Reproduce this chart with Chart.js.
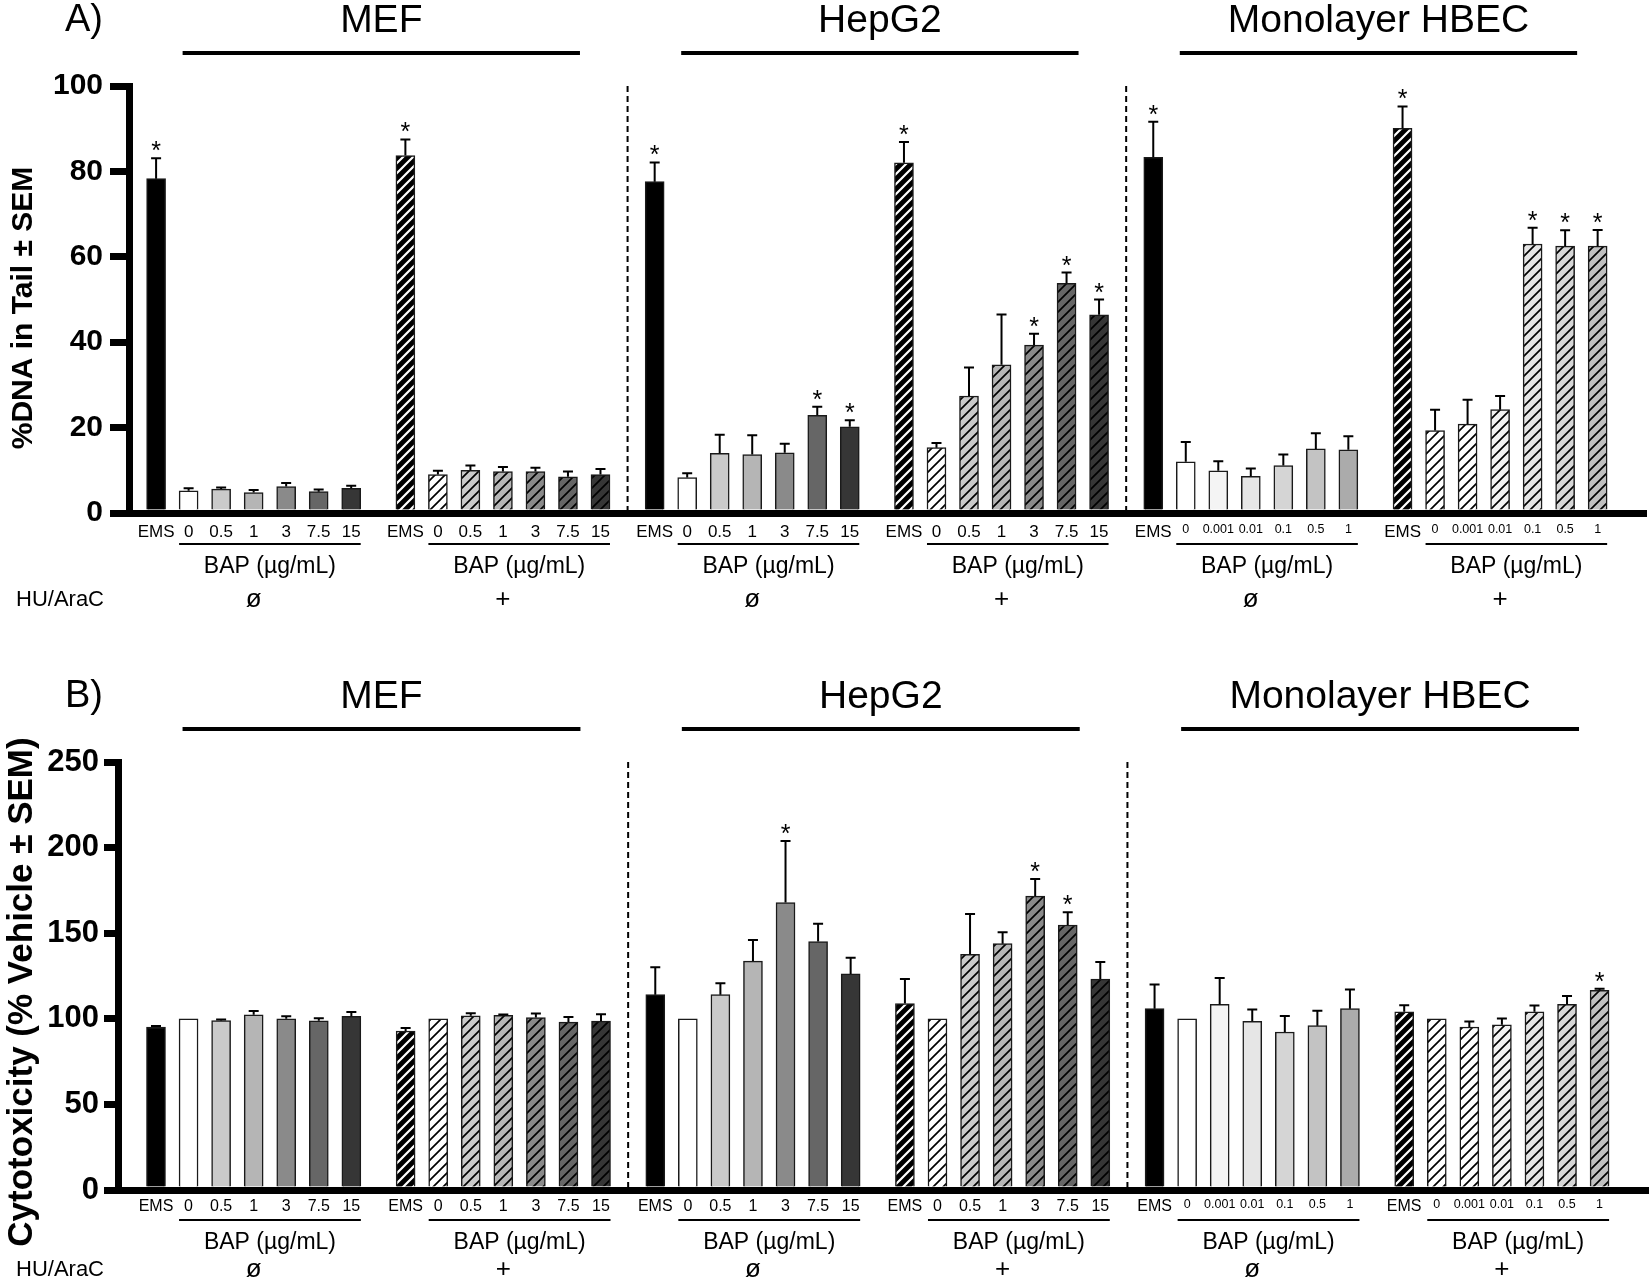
<!DOCTYPE html>
<html>
<head>
<meta charset="utf-8">
<script src="https://cdn.jsdelivr.net/npm/chart.js@4.4.1/dist/chart.umd.min.js"></script>
<style>
  html, body { margin: 0; padding: 0; background: #fff; }
  #wrap { position: relative; width: 1650px; height: 1286px; }
  canvas { position: absolute; left: 0; }
  #chartA { top: 0; }
  #chartB { top: 630px; }
</style>
</head>
<body>
<div id="wrap">
  <canvas id="chartA" width="1650" height="630"></canvas>
  <canvas id="chartB" width="1650" height="656"></canvas>
</div>
<script>
const panelNames = ["MEF", "HepG2", "Monolayer HBEC"];
const doseLabels = ["EMS", "0", "0.5", "1", "3", "7.5", "15"];
const hbecDoseLabels = ["EMS", "0", "0.001", "0.01", "0.1", "0.5", "1"];
const groupLabel = "BAP (µg/mL)";
const huAracLabels = ["ø", "+"];

// A) %DNA in tail. first 7 = without HU/AraC, last 7 = with HU/AraC
const dnaMef = [78.3, 5.2, 5.6, 4.8, 6.2, 5.0, 5.8, 83.7, 9.0, 10.0, 9.7, 9.7, 8.5, 9.0];
const dnaMefErr = [4.8, 0.6, 0.4, 0.6, 0.8, 0.5, 0.6, 3.8, 0.9, 1.1, 1.1, 0.9, 1.2, 1.3];
const dnaMefStars = [0, 7];
const dnaHep = [77.6, 8.3, 14.0, 13.7, 14.1, 22.9, 20.2, 82.0, 15.3, 27.4, 34.7, 39.3, 53.8, 46.4];
const dnaHepErr = [4.5, 1.0, 4.3, 4.5, 2.1, 2.0, 1.5, 4.9, 1.1, 6.7, 11.8, 2.7, 2.5, 3.6];
const dnaHepStars = [0, 5, 6, 7, 11, 12, 13];
const dnaHbec = [83.3, 12.0, 9.9, 8.6, 11.1, 15.0, 14.8, 90.1, 19.3, 20.8, 24.2, 63.0, 62.5, 62.5];
const dnaHbecErr = [8.3, 4.6, 2.2, 1.8, 2.6, 3.7, 3.2, 5.1, 4.9, 5.7, 3.2, 3.8, 3.7, 3.8];
const dnaHbecStars = [0, 7, 11, 12, 13];

// B) cytotoxicity, % of vehicle
const cytoMef = [95.2, 100, 98.9, 102.3, 100.0, 98.8, 101.5, 92.8, 100, 101.8, 102.0, 100.7, 98.1, 98.6];
const cytoMefErr = [0.6, 0, 0.7, 2.3, 1.5, 1.5, 2.5, 1.8, 0, 1.5, 0.5, 2.4, 3.0, 4.0];
const cytoMefStars = [];
const cytoHep = [114.1, 100, 114.1, 133.7, 167.9, 145.1, 126.2, 108.9, 100, 137.7, 143.9, 171.7, 154.8, 123.2];
const cytoHepErr = [16.0, 0, 6.7, 12.4, 36.0, 10.4, 9.5, 14.3, 0, 23.5, 6.7, 9.9, 7.4, 10.0];
const cytoHepStars = [4, 11, 12];
const cytoHbec = [105.9, 100, 108.4, 98.5, 92.3, 96.0, 105.9, 104.1, 100, 95.2, 96.5, 104.1, 108.4, 116.6];
const cytoHbecErr = [14.1, 0, 15.4, 7.0, 9.4, 8.7, 11.2, 3.8, 0, 3.2, 3.7, 3.6, 4.9, 1.0];
const cytoHbecStars = [13];

const yTicksA = [0, 20, 40, 60, 80, 100];
const yTicksB = [0, 50, 100, 150, 200, 250];

const FONT = "'Liberation Sans', Arial, Helvetica, sans-serif";
const BAR_W = 19;
const SUB = 3;  // category slots from one bar to the next
const GAP = 5;  // category slots from the last bar of a group to the next group

const greysPlain = ["#000000", "#ffffff", "#cacaca", "#b5b5b5", "#8a8a8a", "#666666", "#363636"];
const greysHbec = ["#000000", "#ffffff", "#f4f4f4", "#e6e6e6", "#d5d5d5", "#c3c3c3", "#ababab"];
const greysHbecHatched = ["#000000", "#ffffff", "#ffffff", "#f2f2f2", "#e4e4e4", "#d6d6d6", "#c0c0c0"];

function hatch(bg, fg, w) {
  const c = document.createElement("canvas");
  c.width = 10;
  c.height = 10;
  const g = c.getContext("2d");
  g.fillStyle = bg;
  g.fillRect(0, 0, 10, 10);
  g.strokeStyle = fg;
  g.lineWidth = w;
  g.beginPath();
  g.moveTo(-2, 12); g.lineTo(12, -2);
  g.moveTo(-7, 7); g.lineTo(7, -7);
  g.moveTo(3, 17); g.lineTo(17, 3);
  g.stroke();
  return g.createPattern(c, "repeat");
}

function fillFor(group, bar) {
  const hbec = group >= 4;
  const hatched = group % 2 === 1;
  const base = hbec ? (hatched ? greysHbecHatched : greysHbec) : greysPlain;
  if (!hatched) return base[bar];
  return bar === 0 ? hatch(base[bar], "#ffffff", 2.2) : hatch(base[bar], "#000000", 1.7);
}

// category slots: 6 groups of 7 bars, blank slots between them
function buildSlots(lead, tail) {
  const labels = [];
  const slotOf = [];
  for (let i = 0; i < lead; i++) labels.push("");
  for (let g = 0; g < 6; g++) {
    if (g > 0) for (let i = 0; i < GAP - 1; i++) labels.push("");
    const names = g >= 4 ? hbecDoseLabels : doseLabels;
    const row = [];
    for (let b = 0; b < 7; b++) {
      if (b > 0) for (let i = 0; i < SUB - 1; i++) labels.push("");
      row.push(labels.length);
      labels.push(names[b]);
    }
    slotOf.push(row);
  }
  for (let i = 0; i < tail; i++) labels.push("");
  return { labels, slotOf };
}

function decorPlugin(spec, slotOf) {
  return {
    id: "panelDecor",
    afterDraw(chart) {
      const ctx = chart.ctx;
      const area = chart.chartArea;
      const ys = chart.scales.y;
      const meta = chart.getDatasetMeta(0);
      const px = slot => meta.data[slot].x;
      ctx.save();
      ctx.fillStyle = "#000";
      ctx.strokeStyle = "#000";

      // panel letter + cell type headers
      ctx.font = `38px ${FONT}`;
      ctx.textAlign = "left";
      ctx.textBaseline = "middle";
      ctx.fillText(spec.letter, 65, area.top - 65);
      ctx.font = `39px ${FONT}`;
      ctx.textAlign = "center";
      ctx.lineWidth = 4;
      for (let p = 0; p < 3; p++) {
        const x1 = px(slotOf[2 * p][1]) - 6;
        const x2 = px(slotOf[2 * p + 1][5]) + 12;
        ctx.beginPath();
        ctx.moveTo(x1, area.top - 33);
        ctx.lineTo(x2, area.top - 33);
        ctx.stroke();
        ctx.fillText(panelNames[p], (x1 + x2) / 2, area.top - 65);
      }

      // dashed separators between cell types
      ctx.lineWidth = 2;
      ctx.setLineDash([6, 4]);
      for (const g of [1, 3]) {
        const x = (px(slotOf[g][6]) + px(slotOf[g + 1][0])) / 2;
        ctx.beginPath();
        ctx.moveTo(x, area.top);
        ctx.lineTo(x, area.bottom);
        ctx.stroke();
      }
      ctx.setLineDash([]);

      // error bars and significance marks
      ctx.font = `25px ${FONT}`;
      ctx.textBaseline = "alphabetic";
      for (let g = 0; g < 6; g++) {
        const s = spec.series[Math.floor(g / 2)];
        for (let b = 0; b < 7; b++) {
          const k = (g % 2) * 7 + b;
          const x = px(slotOf[g][b]);
          const top = ys.getPixelForValue(s.v[k]);
          const et = ys.getPixelForValue(s.v[k] + s.e[k]);
          if (s.e[k] > 0) {
            ctx.lineWidth = 2;
            ctx.beginPath();
            ctx.moveTo(x, top);
            ctx.lineTo(x, et);
            ctx.moveTo(x - 5, et);
            ctx.lineTo(x + 5, et);
            ctx.stroke();
          }
          if (s.stars.includes(k)) ctx.fillText("*", x, et + 1);
        }
      }

      // dose underline, BAP label, HU/AraC row
      for (let g = 0; g < 6; g++) {
        const row = slotOf[g];
        const x0 = px(row[1]) - BAR_W / 2;
        const x1 = px(row[6]) + BAR_W / 2;
        ctx.lineWidth = 2;
        ctx.beginPath();
        ctx.moveTo(x0, area.bottom + spec.under);
        ctx.lineTo(x1, area.bottom + spec.under);
        ctx.stroke();
        ctx.textBaseline = "middle";
        ctx.font = `23px ${FONT}`;
        ctx.fillText(groupLabel, (x0 + x1) / 2, area.bottom + spec.bap);
        ctx.font = `26px ${FONT}`;
        ctx.fillText(huAracLabels[g % 2], (px(row[0]) + px(row[6])) / 2, area.bottom + spec.hu);
      }
      ctx.textAlign = "left";
      ctx.font = `22px ${FONT}`;
      ctx.fillText("HU/AraC", 16, area.bottom + spec.hu);

      // y axis title
      ctx.translate(spec.titleX, spec.titleY);
      ctx.rotate(-Math.PI / 2);
      ctx.textAlign = "center";
      ctx.textBaseline = "middle";
      ctx.font = `bold ${spec.titleSize}px ${FONT}`;
      ctx.fillText(spec.yTitle, 0, 0);
      ctx.restore();
    }
  };
}

function makeChart(id, spec) {
  const { labels, slotOf } = buildSlots(spec.lead, spec.tail);
  const values = new Array(labels.length).fill(null);
  const fills = new Array(labels.length).fill("#ffffff");
  const small = new Set();
  for (let g = 0; g < 6; g++) {
    const s = spec.series[Math.floor(g / 2)];
    for (let b = 0; b < 7; b++) {
      const slot = slotOf[g][b];
      values[slot] = s.v[(g % 2) * 7 + b];
      fills[slot] = fillFor(g, b);
      if (g >= 4 && b > 0) small.add(slot);
    }
  }
  const yt = spec.yTicks;

  return new Chart(document.getElementById(id), {
    type: "bar",
    data: {
      labels: labels,
      datasets: [{
        data: values,
        backgroundColor: c => fills[c.dataIndex],
        borderColor: "#1a1a1a",
        borderWidth: 1.5,
        barThickness: BAR_W
      }]
    },
    options: {
      responsive: false,
      animation: false,
      devicePixelRatio: 1,
      events: [],
      layout: { padding: { top: spec.top, left: 0, right: 0, bottom: 0 } },
      plugins: { legend: { display: false }, tooltip: { enabled: false } },
      scales: {
        x: {
          type: "category",
          offset: true,
          z: 1,
          grid: { display: false, drawTicks: false },
          border: { display: true, color: "#000", width: 7 },
          ticks: {
            autoSkip: false,
            maxRotation: 0,
            minRotation: 0,
            padding: spec.labelPad,
            color: "#000",
            font: c => ({ family: FONT, size: small.has(c.index) ? spec.smallSize : spec.tickSize })
          },
          afterFit: s => { s.height = spec.xHeight; }
        },
        y: {
          min: yt[0],
          max: yt[yt.length - 1],
          ticks: {
            stepSize: yt[1] - yt[0],
            padding: spec.tickPad,
            color: "#000",
            font: { family: FONT, size: spec.yTickSize, weight: "bold" }
          },
          grid: {
            display: true,
            drawOnChartArea: false,
            drawTicks: true,
            tickLength: spec.tickLen,
            tickWidth: 7,
            tickColor: "#000",
            color: "#000",
            lineWidth: 7
          },
          border: { display: true, color: "#000", width: 7 },
          afterFit: s => { s.width = spec.axisLeft; }
        }
      }
    },
    plugins: [decorPlugin(spec, slotOf)]
  });
}

makeChart("chartA", {
  letter: "A)",
  yTitle: "%DNA in Tail ± SEM",
  titleSize: 30, titleX: 24, titleY: 308,
  series: [
    { v: dnaMef, e: dnaMefErr, stars: dnaMefStars },
    { v: dnaHep, e: dnaHepErr, stars: dnaHepStars },
    { v: dnaHbec, e: dnaHbecErr, stars: dnaHbecStars }
  ],
  yTicks: yTicksA,
  lead: 2, tail: 4,
  top: 86, xHeight: 117, axisLeft: 129,
  tickLen: 19, tickPad: 7, yTickSize: 30,
  labelPad: 9, tickSize: 17, smallSize: 12.5,
  under: 31, bap: 54, hu: 87
});

makeChart("chartB", {
  letter: "B)",
  yTitle: "Cytotoxicity (% Vehicle ± SEM)",
  titleSize: 35, titleX: 22, titleY: 362,
  series: [
    { v: cytoMef, e: cytoMefErr, stars: cytoMefStars },
    { v: cytoHep, e: cytoHepErr, stars: cytoHepStars },
    { v: cytoHbec, e: cytoHbecErr, stars: cytoHbecStars }
  ],
  yTicks: yTicksB,
  lead: 3, tail: 4,
  top: 132, xHeight: 96, axisLeft: 118,
  tickLen: 14, tickPad: 5, yTickSize: 31,
  labelPad: 7, tickSize: 16, smallSize: 12.5,
  under: 30, bap: 53, hu: 80
});
</script>
</body>
</html>
